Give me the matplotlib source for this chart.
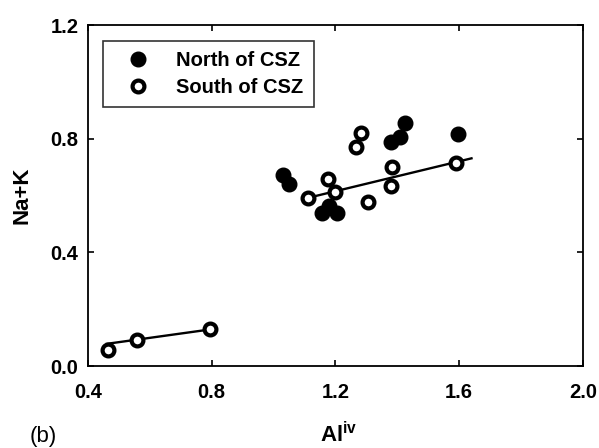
import matplotlib
matplotlib.use("Agg")
import matplotlib.pyplot as plt

plt.rcParams['font.family'] = ['Liberation Sans', 'DejaVu Sans']
plt.rcParams['mathtext.fontset'] = 'custom'
plt.rcParams['mathtext.bf'] = 'Liberation Sans:bold'
plt.rcParams['mathtext.rm'] = 'Liberation Sans'

# North of CSZ (filled)
north_x = [1.03, 1.05, 1.155, 1.18, 1.205, 1.38, 1.41, 1.425, 1.595]
north_y = [0.674, 0.642, 0.537, 0.562, 0.540, 0.787, 0.805, 0.854, 0.815]

# South of CSZ (open)
south_x = [0.465, 0.558, 0.794, 1.11, 1.177, 1.197, 1.268, 1.284, 1.306, 1.384, 1.381, 1.59]
south_y = [0.058, 0.090, 0.130, 0.593, 0.657, 0.611, 0.770, 0.819, 0.579, 0.702, 0.632, 0.713]

# regression lines (end points)
fit_low_x = [0.46, 0.81]
fit_low_y = [0.078, 0.131]
fit_high_x = [1.10, 1.64]
fit_high_y = [0.589, 0.731]

xticks = [0.4, 0.8, 1.2, 1.6, 2.0]
yticks = [0.0, 0.4, 0.8, 1.2]

fig = plt.figure(figsize=(5.99, 4.48), dpi=100)
ax = fig.add_axes([0.147, 0.183, 0.826, 0.761])

ax.plot(fit_low_x, fit_low_y, color='black', lw=1.7, zorder=1)
ax.plot(fit_high_x, fit_high_y, color='black', lw=1.7, zorder=1)

ax.plot(north_x, north_y, 'o', color='black', ms=10.5, mew=1, label='North of CSZ', zorder=2)
ax.plot(south_x, south_y, 'o', mfc='white', mec='black', mew=3, ms=8.5,
        label='South of CSZ', zorder=3)

ax.set_xlim(0.4, 2.0)
ax.set_ylim(0.0, 1.2)
ax.set_xticks(xticks)
ax.set_yticks(yticks)
ax.set_xticklabels([f"{t:.1f}" for t in xticks], fontsize=14.5, fontweight='bold')
ax.set_yticklabels([f"{t:.1f}" for t in yticks], fontsize=14.5, fontweight='bold')
ax.tick_params(direction='in', length=4.5, width=1.2, top=True, right=True)
ax.tick_params(axis='x', pad=12)
ax.tick_params(axis='y', pad=7)
for s in ax.spines.values():
    s.set_linewidth(1.3)

ax.set_ylabel('Na+K', fontsize=16, fontweight='bold', labelpad=13)
# x label and panel tag sit at the very bottom edge, as in the original
fig.text(0.565, 0.002, r'$\mathbf{Al}^{\mathbf{iv}}$', fontsize=16,
         ha='center', va='bottom')
fig.text(0.05, 0.002, '(b)', fontsize=16, va='bottom')

leg = ax.legend(loc='upper left', bbox_to_anchor=(0.030, 0.953), frameon=True,
                fancybox=False, edgecolor='black', borderaxespad=0,
                prop={'weight': 'bold', 'size': 14.5}, handletextpad=0.65,
                borderpad=0.5, labelspacing=0.4, handlelength=2.5)
leg.get_frame().set_linewidth(1.2)

fig.savefig('out.png', dpi=100)
